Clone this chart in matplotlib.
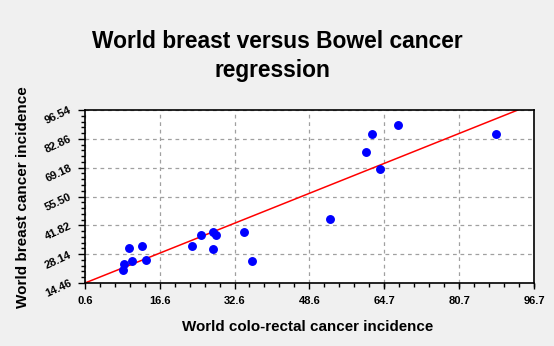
import numpy as np
import matplotlib
matplotlib.use("Agg")
import matplotlib.pyplot as plt
from matplotlib.ticker import AutoMinorLocator

# colo-rectal incidence (x) vs breast incidence (y)
bowel = [8.7, 9.0, 10.6, 10.0, 12.8, 13.7, 23.5, 25.4, 28.1, 28.7, 28.1,
         34.6, 36.3, 53.0, 60.8, 62.0, 63.8, 67.5, 88.5]
breast = [20.6, 23.3, 24.8, 31.2, 32.2, 25.2, 32.0, 37.4, 38.8, 37.4, 30.6,
          38.8, 24.8, 45.0, 76.6, 85.0, 68.7, 89.4, 85.0]

# regression line
fit_slope = 0.886
fit_intercept = 13.93
fit_x = [0.6, 93.7]

xticks = [0.6, 16.6, 32.6, 48.6, 64.7, 80.7, 96.7]
yticks = [14.46, 28.14, 41.82, 55.50, 69.18, 82.86, 96.54]

plt.rcParams['font.family'] = ['Liberation Sans', 'DejaVu Sans']

fig = plt.figure(figsize=(5.54, 3.46), dpi=100, facecolor="#f0f0f0")
ax = fig.add_axes([85 / 554, 1 - 283 / 346, 449 / 554, 173 / 346])
ax.set_facecolor("white")

fx = np.array(fit_x)
ax.plot(fx, fit_slope * fx + fit_intercept, color="red", lw=1.1, zorder=2)
ax.plot(bowel, breast, "o", color="blue", ms=5.4, mec="blue", zorder=3)

ax.set_xlim(xticks[0], xticks[-1])
ax.set_ylim(yticks[0], yticks[-1])
ax.set_xticks(xticks)
ax.set_yticks(yticks)
ax.set_xticklabels([f"{v:.1f}" for v in xticks], fontsize=8, fontweight="bold")
ax.set_yticklabels([f"{v:.2f}" for v in yticks], fontsize=8, fontweight="bold",
                   rotation=25, ha="right", va="center", rotation_mode="anchor")
ax.xaxis.set_minor_locator(AutoMinorLocator(5))
ax.yaxis.set_minor_locator(AutoMinorLocator(5))
ax.tick_params(which="major", length=4, width=1, color="black", pad=5)
ax.tick_params(which="minor", length=3, width=1, color="black")
ax.tick_params(axis="y", which="major", length=5)
ax.grid(True, which="major", color="#a0a0a0", ls=(0, (3, 3)), lw=0.9)
for s in ax.spines.values():
    s.set_linewidth(1.2)

fig.text(277 / 554, 1 - 42 / 346, "World breast versus Bowel cancer",
         ha="center", va="center", fontsize=16.4, fontweight="bold")
fig.text(272 / 554, 1 - 70 / 346, "regression",
         ha="center", va="center", fontsize=16.4, fontweight="bold")
fig.text(308 / 554, 1 - 327 / 346, "World colo-rectal cancer incidence",
         ha="center", va="center", fontsize=10.9, fontweight="bold")
fig.text(23 / 554, 1 - 197 / 346, "World breast cancer incidence",
         ha="center", va="center", rotation=90, fontsize=11, fontweight="bold")

fig.savefig("out.png", dpi=100, facecolor=fig.get_facecolor())
